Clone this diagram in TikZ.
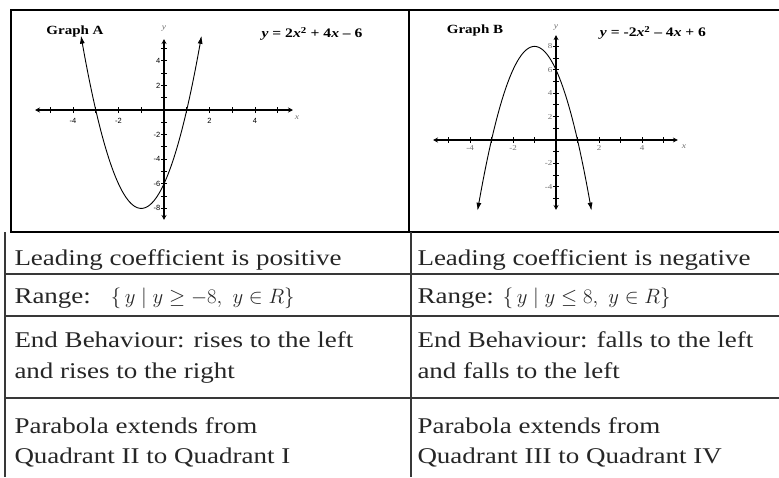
\documentclass[tikz,border=0pt]{standalone}
\usepackage{fontspec}
\setmainfont{Liberation Serif}[FakeStretch=1.2]
\setsansfont{Liberation Sans}
\usetikzlibrary{arrows.meta}
\definecolor{cink}{HTML}{262626}
\definecolor{crule}{HTML}{383838}
\definecolor{cgrey}{HTML}{707070}
\tikzset{
  every picture/.style={line width=1pt},
  frame/.style={draw=black, line width=2.2pt},
  rule/.style={draw=crule, line width=2pt},
  cell/.style={anchor=base west, inner sep=0pt, text=cink, font=\fontsize{22.5}{27}\selectfont},
  axis/.style={line width=1.1pt, {Stealth[length=5pt,width=5pt]}-{Stealth[length=5pt,width=5pt]}},
  curve/.style={line width=0.9pt, {Latex[length=8pt,width=5pt]}-{Latex[length=8pt,width=5pt]}},
  ticklbl/.style={font=\sffamily\fontsize{7.5}{8}\selectfont, inner sep=1pt},
  axname/.style={font=\itshape\fontsize{8}{8}\selectfont, text=cgrey},
  title/.style={font=\bfseries\fontsize{12.5}{13}\selectfont},
  eqn/.style={font=\bfseries\fontsize{13}{14}\selectfont},
}

\begin{document}
\begin{tikzpicture}[x=1pt, y=-1pt]
  \useasboundingbox (0,0) rectangle (779,477);
  % graph frame
  \draw[frame] (779,10) -- (11,10) -- (11,232) -- (779,232);
  \draw[frame] (409,10) -- (409,232);
  % table rules
  \draw[rule] (5,232) -- (5,477);
  \draw[rule] (411,232) -- (411,477);
  \foreach \r in {274,316,398}
    \draw[rule] (5,\r) -- (779,\r);

  % Graph A
  \begin{scope}[shift={(164,110)}, x=22.75pt, y=12.3pt]
    \draw[axis] (-5.67,0) -- (5.67,0);
    \draw[axis] (0,-8.94) -- (0,5.77);
    \foreach \i in {-5,...,5} \draw (\i,-0.25) -- (\i,0.25);
    \foreach \j in {-8,...,5} \draw (-0.13,\j) -- (0.13,\j);
    \foreach \i [count=\k] in {-4,-2,2,4}
      \node[ticklbl] (axA\k) at (\i,-0.85) {\i};
    \foreach \j [count=\k] in {-8,-6,-4,-2,2,4}
      \node[ticklbl, anchor=east] (ayA\k) at (-0.1,\j) {\j};
    \draw[curve] plot[domain=-3.65:1.65, samples=80] (\x,{2*(\x)^2+4*\x-6});
    \node[axname] (xnA) at (5.85,-0.65) {x};
    \node[axname] (ynA) at (0,6.6) {y};
  \end{scope}
  \node[title] (titleA) at (75,31) {Graph A};
  \node[eqn] (eqA) at (312,34) {\textit{y} = 2\textit{x}\textsuperscript{2} + 4\textit{x} – 6};

  % Graph B
  \begin{scope}[shift={(556,140)}, x=21.5pt, y=11.7pt]
    \draw[axis] (-5.72,0) -- (5.67,0);
    \draw[axis] (0,-5.98) -- (0,8.97);
    \foreach \i in {-5,...,5} \draw (\i,-0.25) -- (\i,0.25);
    \foreach \j in {-5,...,8} \draw (-0.14,\j) -- (0.14,\j);
    \foreach \i [count=\k] in {-4,-2,2,4}
      \node[ticklbl, font=\fontsize{7.5}{8}\selectfont, text=cgrey] (axB\k) at (\i,-0.7) {\i};
    \foreach \j [count=\k] in {-4,-2,2,4,6,8}
      \node[ticklbl, font=\fontsize{7.5}{8}\selectfont, text=cgrey, anchor=east] (ayB\k) at (-0.1,\j) {\j};
    \draw[curve] plot[domain=-3.65:1.65, samples=80] (\x,{-2*(\x)^2-4*\x+6});
    \node[axname] (xnB) at (5.95,-0.6) {x};
    \node[axname] (ynB) at (0,9.6) {y};
  \end{scope}
  \node[title] (titleB) at (475,30) {Graph B};
  \node[eqn] (eqB) at (653,33) {\textit{y} = -2\textit{x}\textsuperscript{2} – 4\textit{x} + 6};

  % table text
  \node[cell] (lead1) at (14,265) {Leading coefficient is positive};
  \node[cell] (lead2) at (417,265) {Leading coefficient is negative};
  \node[cell] (range1) at (14,303) {Range:\hspace{20pt}$\{\,y\mid y\geq -8,\ y\in R\}$};
  \node[cell] (range2) at (417,303) {Range: $\{\,y\mid y\leq 8,\ y\in R\}$};
  \node[cell] (endA1) at (14,347) {End Behaviour: rises to the left};
  \node[cell] (endA2) at (14,378) {and rises to the right};
  \node[cell] (endB1) at (417,347) {End Behaviour: falls to the left};
  \node[cell] (endB2) at (417,378) {and falls to the left};
  \node[cell] (quadA1) at (14,433) {Parabola extends from};
  \node[cell] (quadA2) at (14,463) {Quadrant II to Quadrant I};
  \node[cell] (quadB1) at (417,433) {Parabola extends from};
  \node[cell] (quadB2) at (417,463) {Quadrant III to Quadrant IV};
\end{tikzpicture}
\end{document}
